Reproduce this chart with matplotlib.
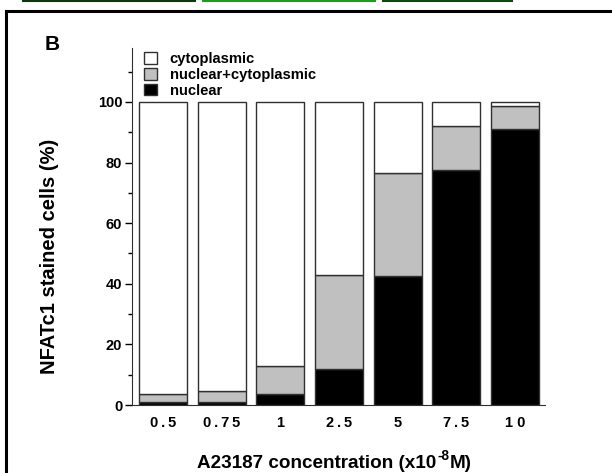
import matplotlib
matplotlib.use("Agg")
import matplotlib.pyplot as plt
from matplotlib.lines import Line2D
from matplotlib.patches import Patch
import numpy as np

categories = ["0.5", "0.75", "1", "2.5", "5", "7.5", "1 0"]
nuclear = [1.0, 1.0, 3.5, 12.0, 42.5, 77.5, 91.0]
nuclear_cyto = [2.5, 3.7, 9.5, 31.0, 34.0, 14.5, 7.5]
cytoplasmic = [100 - a - b for a, b in zip(nuclear, nuclear_cyto)]
yticks = [0, 20, 40, 60, 80, 100]

plt.rcParams['font.family'] = ['Liberation Sans', 'DejaVu Sans']
plt.rcParams['font.weight'] = 'bold'

W, H = 612, 473
fig = plt.figure(figsize=(W / 100, H / 100), dpi=100)
ax = fig.add_axes([132 / W, (H - 405) / H, 413 / W, 357 / H])

x = np.arange(len(categories))
bw = 0.82
ec = '#303030'
ax.bar(x, nuclear, bw, color='black', edgecolor=ec, linewidth=1.0, label='nuclear')
ax.bar(x, nuclear_cyto, bw, bottom=nuclear, color='#c0c0c0', edgecolor=ec, linewidth=1.0,
       label='nuclear+cytoplasmic')
bot2 = [a + b for a, b in zip(nuclear, nuclear_cyto)]
ax.bar(x, cytoplasmic, bw, bottom=bot2, color='white', edgecolor=ec, linewidth=1.0,
       label='cytoplasmic')

ax.set_xlim(-0.528, 6.51)
ax.set_ylim(0, 117.8)
ax.set_yticks(yticks)
ax.set_yticks(np.arange(10, 120, 20), minor=True)
ax.tick_params(axis='y', which='major', length=5, width=1, direction='out', labelsize=10.5, pad=2)
ax.tick_params(axis='y', which='minor', length=3, width=1, direction='out')
ax.set_xticks(x)
ax.set_xticklabels([("\u2009".join(list(c)) if c != "1 0" else c) for c in categories])
ax.tick_params(axis='x', length=0, labelsize=10.5, pad=8)
for lab in ax.get_xticklabels() + ax.get_yticklabels():
    lab.set_fontweight('bold')
ax.spines['top'].set_visible(False)
ax.spines['right'].set_visible(False)
ax.spines['left'].set_color('#303030')
ax.spines['bottom'].set_color('#303030')

ax.set_ylabel("NFATc1 stained cells (%)", fontsize=14.5, fontweight='bold')
ax.yaxis.label.set_va('center')
ax.yaxis.set_label_coords((50 - 132) / 413, (405 - 256) / 357)

handles = [Patch(facecolor='white', edgecolor=ec, label='cytoplasmic'),
           Patch(facecolor='#c0c0c0', edgecolor=ec, label='nuclear+cytoplasmic'),
           Patch(facecolor='black', edgecolor=ec, label='nuclear')]
leg = ax.legend(handles=handles, loc='upper left', bbox_to_anchor=(0.015, 1.005), frameon=False,
                prop={'weight': 'bold', 'size': 10.6}, handlelength=0.85, handleheight=0.85,
                handletextpad=0.9, labelspacing=0.12, borderaxespad=0)

fig.text(45 / W, 1 - 45 / H, "B", fontsize=15, fontweight='bold', va='center', ha='left')

# x-axis label with hyphen superscript, composed of three texts
base_y = 1 - 468 / H
t1 = fig.text(0, base_y, "A23187 concentration (x10", fontsize=13.6, fontweight='bold',
              ha='left', va='baseline')
t2 = fig.text(0, 1 - 460 / H, "-8", fontsize=9.8, fontweight='bold', ha='left', va='baseline')
t3 = fig.text(0, base_y, "M)", fontsize=13.6, fontweight='bold', ha='left', va='baseline')
fig.canvas.draw()
r = fig.canvas.get_renderer()
w1 = t1.get_window_extent(r).width
w2 = t2.get_window_extent(r).width
w3 = t3.get_window_extent(r).width
total = w1 + w2 + w3 + 1
x0 = 334.5 - total / 2
t1.set_x(x0 / W)
t2.set_x((x0 + w1 + 0.5) / W)
t3.set_x((x0 + w1 + w2 + 1) / W)

# frame
fig.add_artist(Line2D([6 / W, 1], [1 - 11 / H, 1 - 11 / H], color='black', lw=2.2))
fig.add_artist(Line2D([6 / W, 6 / W], [0, 1 - 11 / H], color='black', lw=2.2))
for (xa, xb, c) in [(23, 195, '#0a3a0a'), (203, 375, '#18a018'), (383, 512, '#0c4a0c')]:
    fig.add_artist(Line2D([xa / W, xb / W], [1 - 0.8 / H, 1 - 0.8 / H], color=c, lw=1.5))

fig.savefig("out.png", dpi=100)
